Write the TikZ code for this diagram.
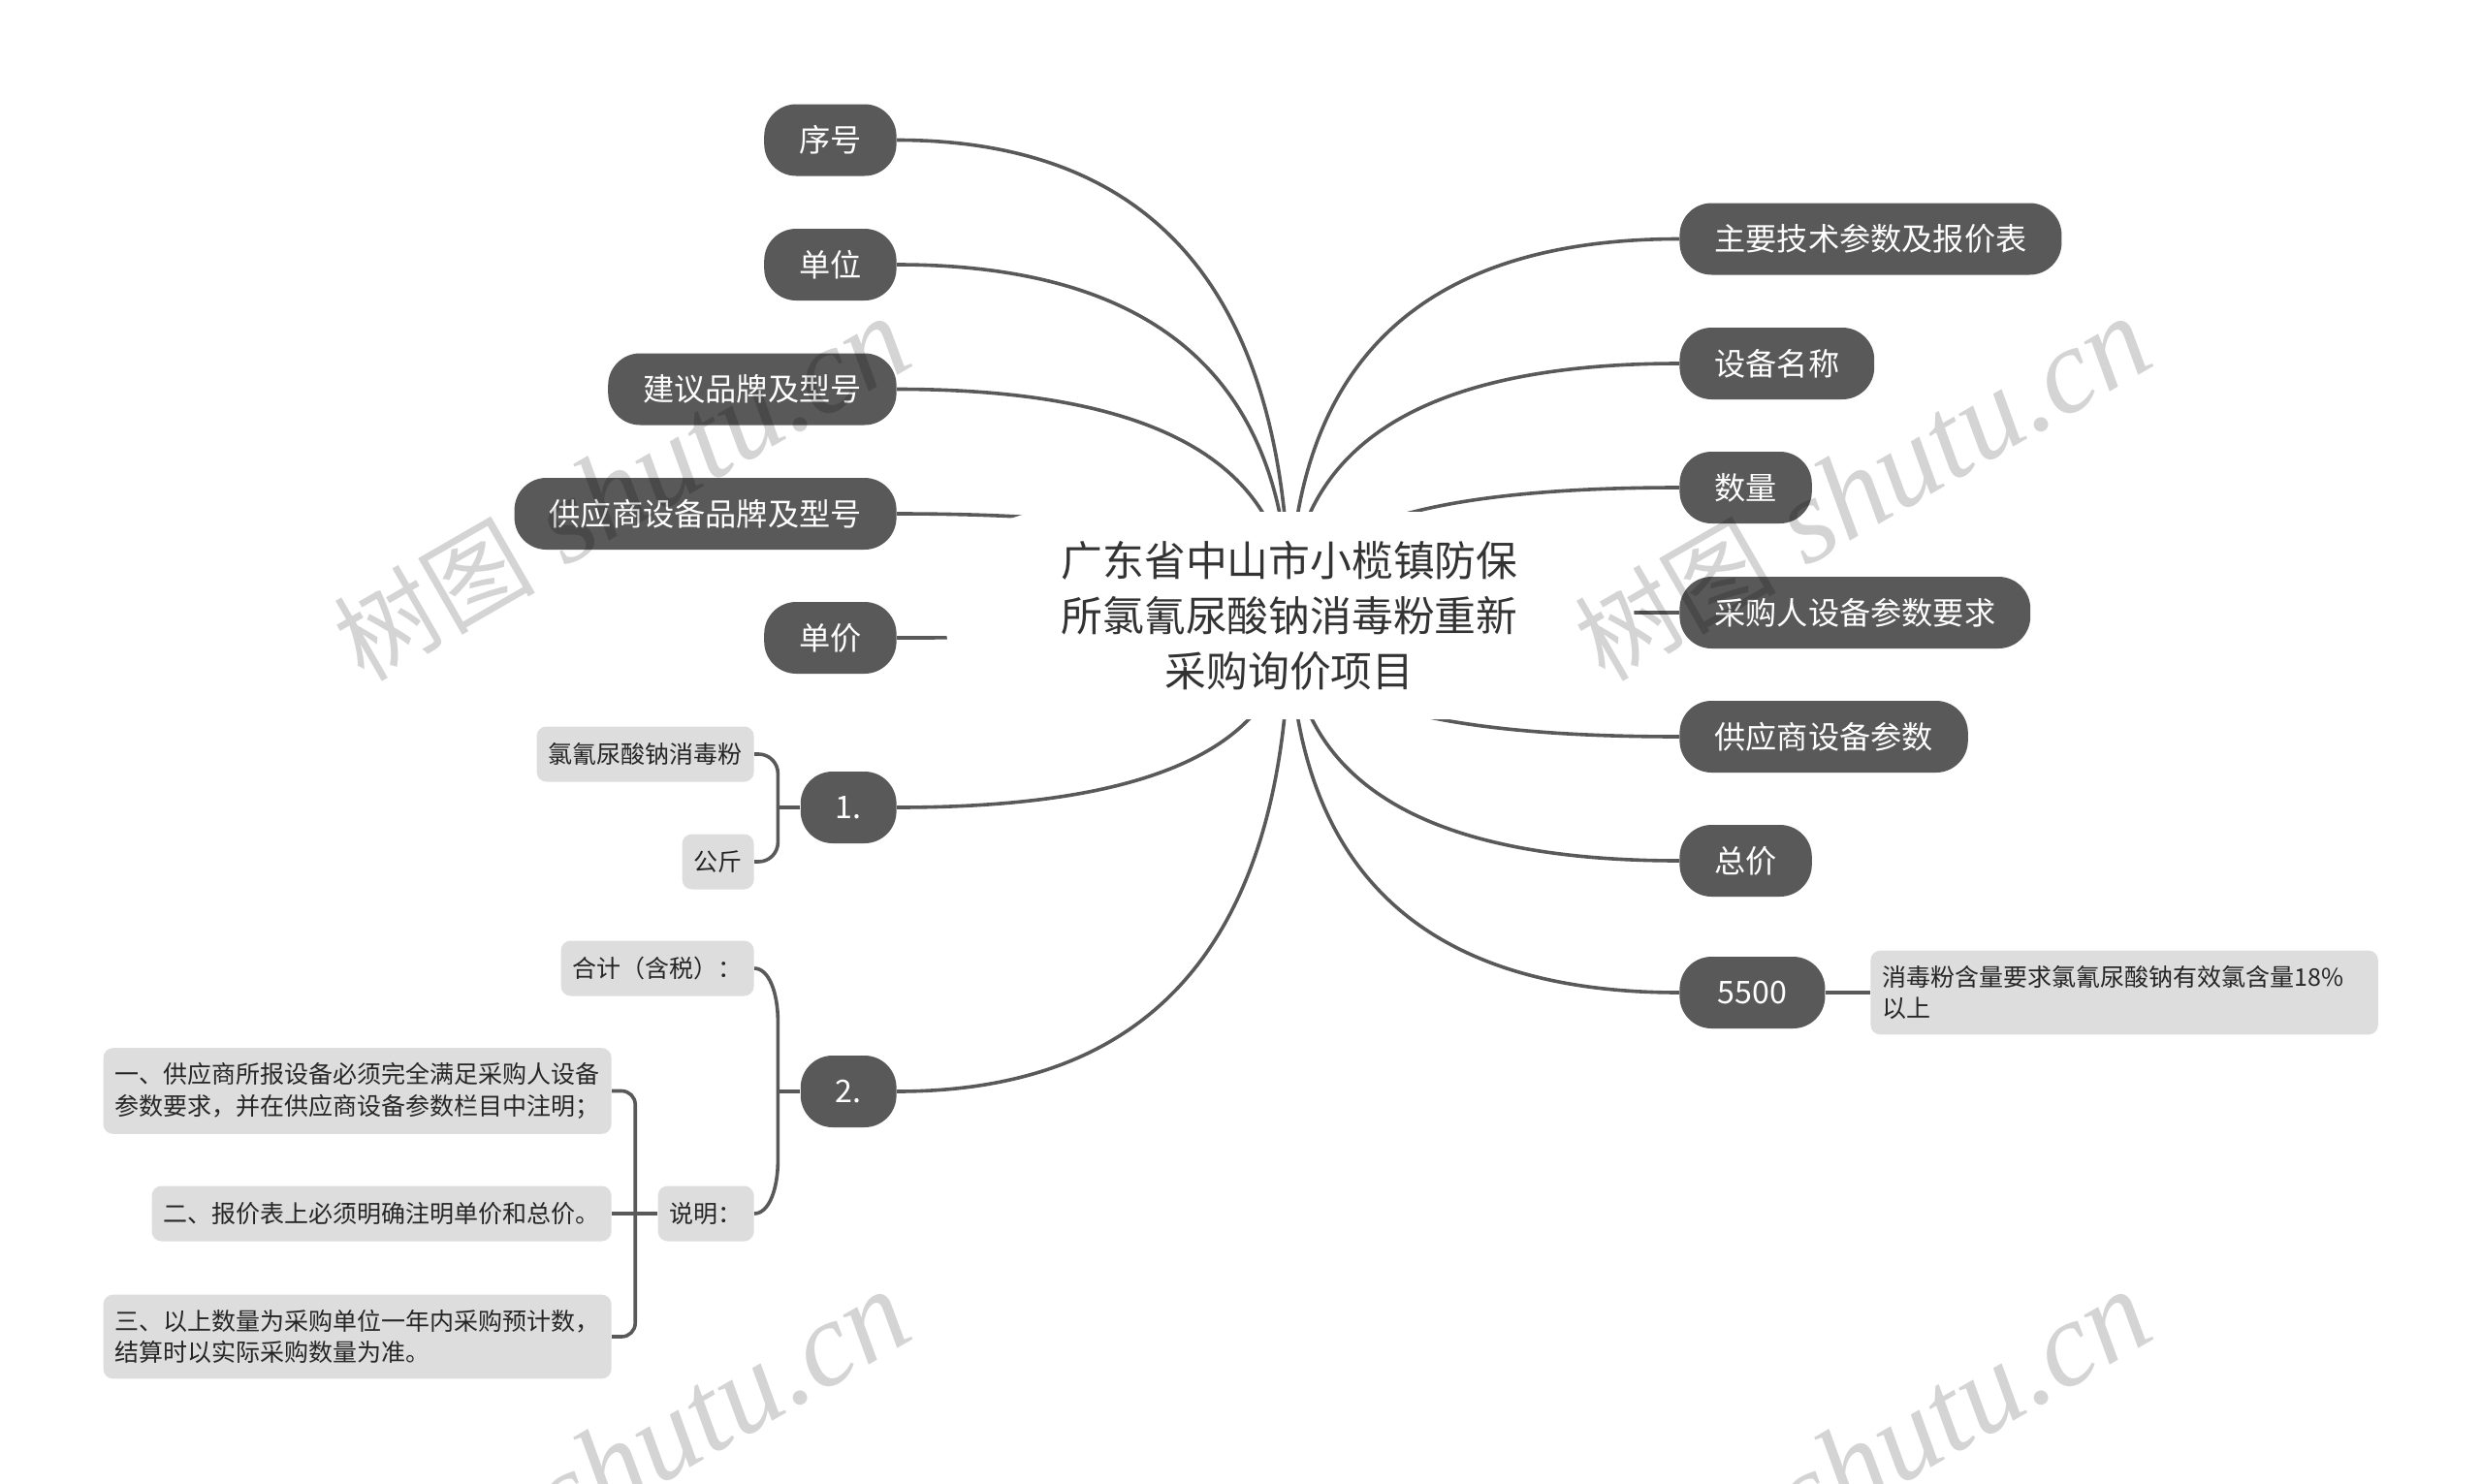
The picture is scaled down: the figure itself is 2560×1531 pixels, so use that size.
\documentclass[tikz,border=0pt]{standalone}
\usepackage{fontspec}
\setmainfont{Noto Sans CJK SC}
\newfontfamily\markfont[ItalicFont=Liberation Serif Italic]{Liberation Serif}
\usetikzlibrary{calc}
\definecolor{dark}{HTML}{595959}
\definecolor{pale}{HTML}{DDDDDD}
\pgfdeclarelayer{bg}
\pgfsetlayers{bg,main}
\tikzset{
  pillbox/.style={fill=dark,text=white,rounded corners=16.5pt,minimum height=37pt,inner xsep=18pt,inner ysep=0pt,
    font=\fontsize{16.1}{20}\selectfont},
  notebox/.style={fill=pale,text=black!85,rounded corners=5pt,minimum height=28.5pt,inner xsep=6pt,inner ysep=7.75pt,
    align=left,font=\fontsize{12.5}{16.2}\selectfont},
  branch/.style={draw=dark,line width=1.8pt},
  twig/.style={draw=dark,line width=1.8pt,rounded corners=10pt},
  stamp/.style={black,opacity=.17,rotate=30,anchor=base west,inner sep=0pt},
}
\begin{document}
\begin{tikzpicture}[x=.5pt,y=-.5pt]
    \useasboundingbox (0,0) rectangle (2560,1531);
    \node[fill=white,rounded corners=53pt,minimum width=355.5pt,minimum height=107pt,inner sep=0pt,text=black!80,align=center,
    font=\fontsize{21.4}{28.5}\selectfont] (root) at (1330,635)
    {广东省中山市小榄镇防保\\所氯氰尿酸钠消毒粉重新\\采购询价项目};
    % left side
    \node[pillbox,anchor=east] (xuhao) at (925,144.5) {序号};
    \node[pillbox,anchor=east] (danwei) at (925,273) {单位};
    \node[pillbox,anchor=east] (jianyi) at (925,401.5) {建议品牌及型号};
    \node[pillbox,anchor=east] (gongying) at (925,530) {供应商设备品牌及型号};
    \node[pillbox,anchor=east] (danjia) at (925,658) {单价};
    \node[pillbox,anchor=east] (one) at (925,833) {1.};
    \node[pillbox,anchor=east] (two) at (925,1126) {2.};
    % right side
    \node[pillbox,anchor=west] (canshu) at (1732,246.5) {主要技术参数及报价表};
    \node[pillbox,anchor=west] (mingcheng) at (1732,375) {设备名称};
    \node[pillbox,anchor=west] (shuliang) at (1732,503) {数量};
    \node[pillbox,anchor=west] (caigou) at (1732,632) {采购人设备参数要求};
    \node[pillbox,anchor=west] (shebei) at (1732,760) {供应商设备参数};
    \node[pillbox,anchor=west] (zongjia) at (1732,888) {总价};
    \node[pillbox,anchor=west,minimum width=75pt] (jine) at (1732,1024) {5500};
    % notes
    \node[notebox,anchor=east] (yaoji) at (778,778) {氯氰尿酸钠消毒粉};
    \node[notebox,anchor=east] (gongjin) at (778,889) {公斤};
    \node[notebox,anchor=east] (heji) at (778,999) {合计（含税）：};
    \node[notebox,anchor=east] (shuoming) at (778,1252) {说明：};
    \node[notebox,anchor=east] (tiaoa) at (631,1125.5) {一、供应商所报设备必须完全满足采购人设备\\参数要求，并在供应商设备参数栏目中注明；};
    \node[notebox,anchor=east] (tiaob) at (631,1252) {二、报价表上必须明确注明单价和总价。};
    \node[notebox,anchor=east] (tiaoc) at (631,1379) {三、以上数量为采购单位一年内采购预计数，\\结算时以实际采购数量为准。};
    \node[notebox,anchor=west,text width=249.75pt] (hanliang) at (1929,1024) {消毒粉含量要求氯氰尿酸钠有效氯含量18\%\\以上};
    \coordinate (onejoin) at ([xshift=-11.5pt]one.west);
    \coordinate (twojoin) at ([xshift=-11.5pt]two.west);
    \coordinate (twotop) at ($(twojoin |- heji.east)+(0,55)$);
    \coordinate (twoend) at ($(twojoin |- shuoming.east)+(0,-55)$);
    \coordinate (notejoin) at ([xshift=-11.5pt]shuoming.west);
    \begin{pgfonlayer}{bg}
    \foreach \n/\a in {xuhao/east,danwei/east,jianyi/east,gongying/east,danjia/east,one/east,two/east,
    canshu/west,mingcheng/west,shuliang/west,caigou/west,shebei/west,zongjia/west,jine/west}
      \draw[branch] (\n.\a) .. controls ($(\n.\a)!.667!(root |- \n.\a)$) and ($(root.center)!.667!(root |- \n.\a)$) .. (root.center);
    \draw[branch] (jine.east) -- (hanliang.west);
    \draw[branch] (one.west) -- (onejoin);
    \draw[twig] (yaoji.east) -| (onejoin) |- (gongjin.east);
    \draw[branch] (two.west) -- (twojoin);
    \draw[branch] (heji.east) .. controls +(15,0) and +(0,-30) .. (twotop) -- (twoend) .. controls +(0,30) and +(15,0) .. (shuoming.east);
    \draw[branch] (shuoming.west) -- (tiaob.east);
    \draw[twig,rounded corners=7pt] (tiaoa.east) -| (notejoin) |- (tiaoc.east);
    \end{pgfonlayer}
    % watermark
    \foreach \mx/\my in {0/0,1280/0,0/1004,1280/1004}
      \node[stamp] (mark\mx\my) at (375+\mx,705+\my) {\fontsize{52}{60}\selectfont 树图\markfont\itshape\fontsize{62.5}{60}\selectfont\ shutu.cn};
\end{tikzpicture}
\end{document}
